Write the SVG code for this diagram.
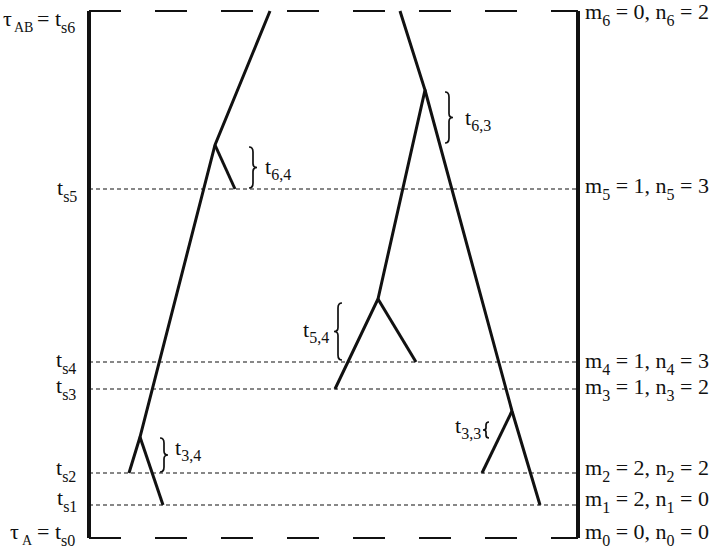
<svg xmlns="http://www.w3.org/2000/svg" width="716" height="549" viewBox="0 0 716 549">
<style>
.bar{stroke:#111;stroke-width:4;fill:none}
.tree{stroke:#111;stroke-width:3;fill:none}
.dash{stroke:#111;stroke-width:1.2;stroke-dasharray:4 3;fill:none}
.long{stroke:#111;stroke-width:2;stroke-dasharray:32 34;fill:none}
.brace{stroke:#111;stroke-width:1.7;fill:none}
text{font-family:"Liberation Serif","Times New Roman",serif;font-size:22px;fill:#111}
.sub{font-size:16px}
.subl{font-size:14px}
</style>
<rect width="716" height="549" fill="#fff"/>
<g id="frame">
<path class="long" d="M89 11 H578"/>
<path class="long" d="M89 538 H578"/>
<path class="bar" d="M89 11 V538"/>
<path class="bar" d="M578 11 V538"/>
</g>
<g id="levels">
<path class="dash" d="M89 189 H578"/>
<path class="dash" d="M89 362 H578"/>
<path class="dash" d="M89 389 H578"/>
<path class="dash" d="M89 473 H578"/>
<path class="dash" d="M89 505 H578"/>
</g>
<g id="connectors">
<path class="tree" d="M270 11 L215 145 L140 437 L129 473"/>
<path class="tree" d="M215 145 L235 189"/>
<path class="tree" d="M140 437 L163 505"/>
<path class="tree" d="M400 11 L425 90 L378 299 L335 389"/>
<path class="tree" d="M378 299 L416 362"/>
<path class="tree" d="M425 90 L512 411 L540 505"/>
<path class="tree" d="M512 411 L482 473"/>
</g>
<g id="braces">
<path class="brace" d="M249 147 Q253 147 253 152 L253 163.5 Q253 167.5 257 167.5 Q253 167.5 253 171.5 L253 183 Q253 188 249 188"/>
<path class="brace" d="M445 92 Q449 92 449 97 L449 113.5 Q449 117.5 453 117.5 Q449 117.5 449 121.5 L449 138 Q449 143 445 143"/>
<path class="brace" d="M160 438 Q164 438 164 443 L164 451 Q164 455 168 455 Q164 455 164 459 L164 467 Q164 472 160 472"/>
<path class="brace" d="M342 303 Q338 303 338 308 L338 327.5 Q338 331.5 334 331.5 Q338 331.5 338 335.5 L338 355 Q338 360 342 360"/>
<path class="brace" d="M489 422 Q486 422 486 425 L486 428 Q486 430 483 430 Q486 430 486 432 L486 435 Q486 438 489 438"/>
</g>
<g id="interval-labels">
<text x="265" y="174">t<tspan class="sub" dy="6">6,4</tspan></text>
<text x="465" y="125">t<tspan class="sub" dy="6">6,3</tspan></text>
<text x="303" y="337">t<tspan class="sub" dy="6">5,4</tspan></text>
<text x="175" y="455">t<tspan class="sub" dy="6">3,4</tspan></text>
<text x="455" y="433">t<tspan class="sub" dy="6">3,3</tspan></text>
</g>
<g id="left-labels">
<text x="3" y="26">τ<tspan class="subl" x="14" dy="6">AB</tspan><tspan x="37" dy="-6">=</tspan><tspan x="55">t</tspan><tspan class="sub" x="61" dy="7">s6</tspan></text>
<text x="57" y="195">t<tspan class="sub" dy="7">s5</tspan></text>
<text x="56" y="367">t<tspan class="sub" dy="7">s4</tspan></text>
<text x="56" y="393">t<tspan class="sub" dy="7">s3</tspan></text>
<text x="56" y="475">t<tspan class="sub" dy="7">s2</tspan></text>
<text x="57" y="505">t<tspan class="sub" dy="7">s1</tspan></text>
<text x="10" y="539">τ<tspan class="subl" x="22" dy="6">A</tspan><tspan x="37" dy="-6">=</tspan><tspan x="55">t</tspan><tspan class="sub" x="61" dy="7">s0</tspan></text>
</g>
<g id="right-labels">
<text x="585" y="19">m<tspan class="sub" dy="7">6</tspan><tspan dy="-7"> = 0, n</tspan><tspan class="sub" dy="7">6</tspan><tspan dy="-7"> = 2</tspan></text>
<text x="585" y="193">m<tspan class="sub" dy="7">5</tspan><tspan dy="-7"> = 1, n</tspan><tspan class="sub" dy="7">5</tspan><tspan dy="-7"> = 3</tspan></text>
<text x="585" y="368">m<tspan class="sub" dy="7">4</tspan><tspan dy="-7"> = 1, n</tspan><tspan class="sub" dy="7">4</tspan><tspan dy="-7"> = 3</tspan></text>
<text x="585" y="394">m<tspan class="sub" dy="7">3</tspan><tspan dy="-7"> = 1, n</tspan><tspan class="sub" dy="7">3</tspan><tspan dy="-7"> = 2</tspan></text>
<text x="585" y="475">m<tspan class="sub" dy="7">2</tspan><tspan dy="-7"> = 2, n</tspan><tspan class="sub" dy="7">2</tspan><tspan dy="-7"> = 2</tspan></text>
<text x="585" y="506">m<tspan class="sub" dy="7">1</tspan><tspan dy="-7"> = 2, n</tspan><tspan class="sub" dy="7">1</tspan><tspan dy="-7"> = 0</tspan></text>
<text x="585" y="539">m<tspan class="sub" dy="7">0</tspan><tspan dy="-7"> = 0, n</tspan><tspan class="sub" dy="7">0</tspan><tspan dy="-7"> = 0</tspan></text>
</g>
</svg>
